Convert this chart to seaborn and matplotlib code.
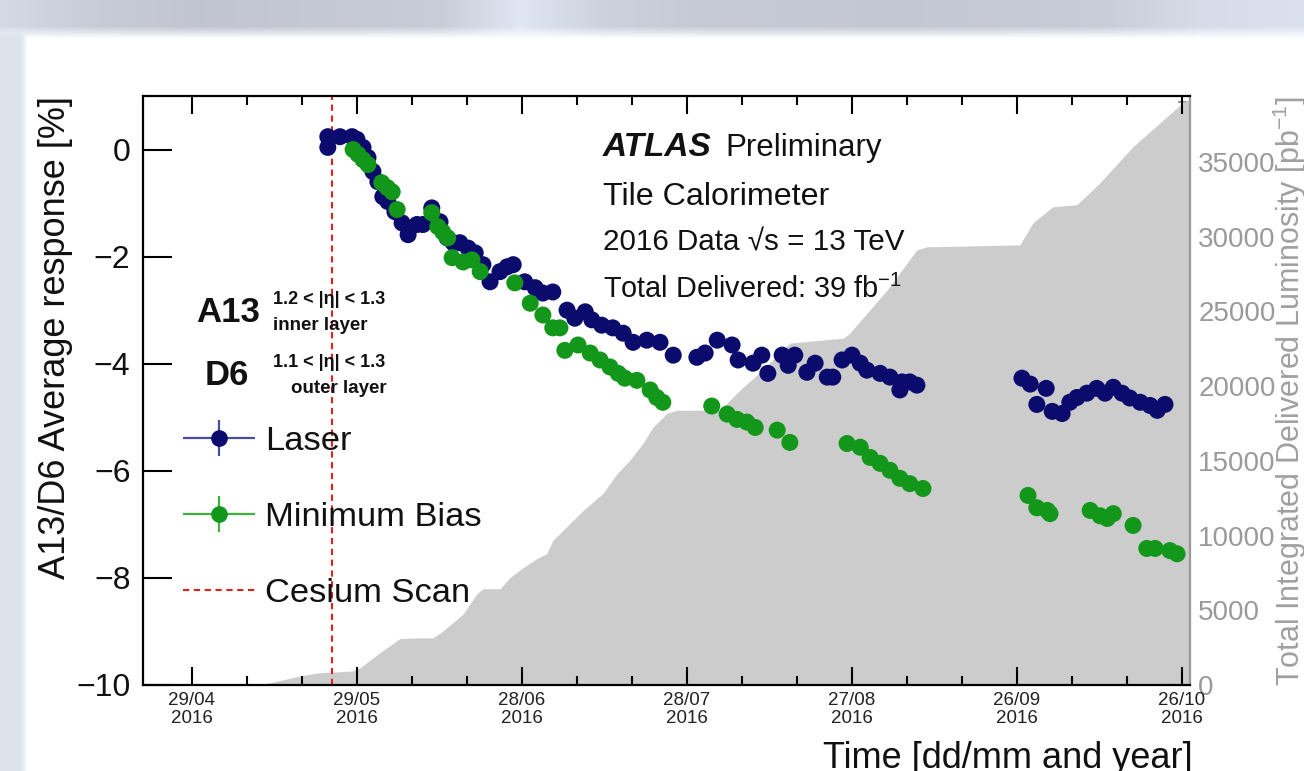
import numpy as np
import pandas as pd
import matplotlib
matplotlib.use("Agg")
import matplotlib.pyplot as plt
import matplotlib.dates as mdates
from matplotlib.lines import Line2D
from matplotlib.legend_handler import HandlerErrorbar
from matplotlib.ticker import FixedLocator, MultipleLocator, NullLocator, FuncFormatter
import seaborn as sns

# ---------------------------------------------------------------------------
# Data: day offsets are counted from 29 May 2016
# ---------------------------------------------------------------------------
REF_DATE = pd.Timestamp("2016-05-29")

laser_days = [-5.3, -5.3, -3.1, -0.9, 0.0, 1.1, 2.0, 2.9, 3.8, 4.7, 5.6, 6.9, 8.2, 9.3,
              10.9, 12.0, 13.6, 15.1, 16.4, 17.5, 18.7, 20.2, 21.5, 22.9, 24.2, 26.0,
              27.3, 28.4, 30.5, 32.4, 33.8, 35.6, 38.2, 39.6, 41.5, 42.7, 44.5, 46.5,
              48.4, 50.2, 52.7, 55.1, 57.5, 61.8, 63.3, 65.5, 68.2, 69.3, 72.0, 73.6,
              74.7, 77.3, 78.4, 79.6, 81.8, 83.3, 85.5, 86.5, 88.2, 90.0, 91.5, 92.7,
              95.1, 96.9, 98.7, 99.1, 100.5, 101.8,
              120.9, 122.4, 123.6, 125.3, 126.4, 128.2, 129.6, 130.9, 132.7, 134.5,
              136.0, 137.5, 139.1, 140.5, 142.4, 144.2, 145.5, 146.9]
laser_resp = [0.24, 0.04, 0.24, 0.24, 0.19, 0.04, -0.15, -0.41, -0.60, -0.88, -0.97, -1.16,
              -1.37, -1.59, -1.40, -1.40, -1.09, -1.35, -1.65, -1.74, -1.74, -1.84, -1.93,
              -2.15, -2.47, -2.28, -2.19, -2.15, -2.47, -2.58, -2.68, -2.66, -3.00, -3.15,
              -3.03, -3.18, -3.28, -3.33, -3.43, -3.60, -3.56, -3.60, -3.84, -3.88, -3.80,
              -3.56, -3.65, -3.93, -3.99, -3.84, -4.18, -3.84, -4.03, -3.84, -4.16, -3.99,
              -4.25, -4.25, -3.93, -3.84, -3.99, -4.12, -4.18, -4.25, -4.49, -4.34, -4.34,
              -4.40,
              -4.27, -4.38, -4.76, -4.46, -4.89, -4.93, -4.72, -4.63, -4.55, -4.46, -4.55,
              -4.44, -4.55, -4.64, -4.72, -4.78, -4.87, -4.76]

minbias_days = [-0.7, 0.2, 1.1, 2.0, 4.5, 5.5, 6.4, 7.3, 13.6, 14.7, 15.6, 16.5, 17.3,
                19.3, 20.9, 22.4, 28.7, 31.5, 33.8, 35.6, 36.9, 37.8, 40.2, 42.4, 44.2,
                46.0, 47.5, 48.7, 50.9, 53.3, 54.5, 55.6, 64.5, 67.3, 69.1, 70.9, 72.4,
                76.4, 78.7, 89.1, 91.5, 93.3, 95.1, 96.9, 98.7, 100.5, 102.9,
                122.0, 123.6, 125.5, 126.0, 133.3, 135.1, 136.4, 137.5, 141.1, 143.6,
                145.1, 147.8, 149.1]
minbias_resp = [0.00, -0.09, -0.19, -0.28, -0.62, -0.71, -0.79, -1.12, -1.18, -1.44, -1.54,
                -1.65, -2.02, -2.10, -2.06, -2.28, -2.49, -2.87, -3.09, -3.33, -3.33, -3.75,
                -3.65, -3.80, -3.93, -4.06, -4.18, -4.27, -4.31, -4.49, -4.63, -4.72, -4.79,
                -4.94, -5.04, -5.09, -5.19, -5.24, -5.47, -5.49, -5.56, -5.75, -5.86, -5.99,
                -6.14, -6.24, -6.33,
                -6.46, -6.69, -6.74, -6.80, -6.74, -6.84, -6.89, -6.80, -7.02, -7.45, -7.45,
                -7.49, -7.55]

# Cumulative delivered luminosity [pb^-1]
lumi_days = [-17.6, -10.4, -7.3, -0.7, 0.5, 4.7, 7.8, 10.9, 13.8, 15.6, 19.3, 21.8, 22.9,
             26.0, 27.8, 30.2, 32.7, 34.5, 35.6, 38.7, 41.1, 44.7, 47.3, 49.6, 52.0, 53.8,
             56.4, 58.2, 66.0, 69.6, 73.3, 78.7, 88.4, 89.6, 96.4, 101.8, 103.6, 120.5,
             122.9, 126.5, 130.9, 135.1, 141.1, 147.3, 150.2, 151.4]
lumi_pb = [0, 600, 800, 940, 1140, 2300, 3100, 3150, 3150, 3600, 4750, 6100, 6440, 6440,
           7180, 7850, 8450, 8790, 9660, 10800, 11670, 12810, 14150, 15030, 16170, 17240,
           18180, 18380, 18380, 19720, 20930, 22870, 23200, 23540, 26430, 29110, 29310,
           29440, 30920, 31990, 32130, 33600, 36020, 38030, 38970, 39170]

cesium_day = -4.5

tick_dates = ["2016-04-29", "2016-05-29", "2016-06-28", "2016-07-28",
              "2016-08-27", "2016-09-26", "2016-10-26"]
resp_ticks = [-10, -8, -6, -4, -2, 0]
lumi_ticks = [0, 5000, 10000, 15000, 20000, 25000, 30000, 35000]


def to_dates(days):
    return REF_DATE + pd.to_timedelta(np.asarray(days, dtype=float), unit="D")


resp_df = pd.concat([
    pd.DataFrame({"date": to_dates(laser_days), "response": laser_resp, "source": "Laser"}),
    pd.DataFrame({"date": to_dates(minbias_days), "response": minbias_resp, "source": "Minimum Bias"}),
], ignore_index=True)
lumi_df = pd.DataFrame({"date": to_dates(lumi_days), "lumi": lumi_pb})

# ---------------------------------------------------------------------------
# Style
# ---------------------------------------------------------------------------
sns.set_theme(style="white")
plt.rcParams["font.family"] = ["Liberation Sans", "DejaVu Sans"]
plt.rcParams["mathtext.fontset"] = "custom"
plt.rcParams["mathtext.rm"] = "Liberation Sans"
plt.rcParams["mathtext.it"] = "Liberation Sans:italic"
plt.rcParams["mathtext.bf"] = "Liberation Sans:bold"

NAVY = "#0b0b6e"
GREEN = "#12971a"
RED = "#e3211c"
LUMI_GREY = "#cccccc"
AXIS_GREY = "#999999"
INK = "#111111"

W, H = 1304, 771
fig = plt.figure(figsize=(W / 100, H / 100), dpi=100)

# slide backdrop: soft blue-grey strip along the top and left edge
bg = fig.add_axes([0, 0, 1, 1], zorder=-5)
yy, xx = np.mgrid[0:H, 0:W]
cx = [0, 90, 200, 440, 520, 600, 700, 900, 1100, 1200, 1304]
cr = [0.86, 0.81, 0.78, 0.81, 0.91, 0.83, 0.80, 0.79, 0.81, 0.87, 0.89]
shade = np.interp(np.arange(W), cx, cr)
strip = np.stack([shade * 0.97, shade * 0.99, shade * 1.05], axis=-1).clip(0, 1)
img = np.ones((H, W, 3))
w_top = np.clip((38 - yy) / 12.0, 0, 1)[..., None]
img = img * (1 - w_top) + strip[None, :, :] * w_top
side = np.array([0.86, 0.89, 0.92])
w_left = np.clip((27 - xx) / 7.0, 0, 1)[..., None] * (1 - w_top)
img = img * (1 - w_left) + side * w_left
bg.imshow(img, aspect="auto", interpolation="bilinear")
bg.set_axis_off()

# axes frame
left, right, top, bottom = 143, 1190, 96, 685
rect = [left / W, 1 - bottom / H, (right - left) / W, (bottom - top) / H]
ax = fig.add_axes(rect)
ax2 = ax.twinx()
ax.set_zorder(2)
ax2.set_zorder(1)
ax.patch.set_visible(False)
ax2.patch.set_visible(True)
ax2.patch.set_facecolor("white")

# integrated luminosity (right axis)
ax2.fill_between(lumi_df["date"], 0, lumi_df["lumi"], color=LUMI_GREY, lw=0)
ax2.set_ylim(0, 39400)

# response measurements (left axis)
sns.scatterplot(data=resp_df, x="date", y="response", hue="source",
                palette={"Laser": NAVY, "Minimum Bias": GREEN},
                s=150, linewidth=0, legend=False, ax=ax, zorder=3)
ax.axvline(REF_DATE + pd.Timedelta(days=cesium_day), color=RED, lw=1.5,
           ls=(0, (3, 2.2)), zorder=2)

ax.set_xlim(REF_DATE + pd.Timedelta(days=-38.9), REF_DATE + pd.Timedelta(days=151.45))
ax.set_ylim(-10, 1)

# x axis
ax.xaxis.set_major_locator(FixedLocator(mdates.date2num(pd.to_datetime(tick_dates))))
ax.xaxis.set_major_formatter(mdates.DateFormatter("%d/%m\n%Y"))
ax.xaxis.set_minor_locator(FixedLocator(
    mdates.date2num(pd.date_range("2016-04-19", "2016-11-05", freq="10D"))))
ax.tick_params(axis="x", which="major", direction="in", length=13, width=1.5,
               top=True, bottom=True, labelsize=13.5, pad=5, color="black",
               labelcolor="#222222")
ax.tick_params(axis="x", which="minor", direction="in", length=6.5, width=1.5,
               top=True, bottom=True, color="black")
for lbl in ax.get_xticklabels():
    lbl.set_linespacing(1.05)

# left y axis
ax.yaxis.set_major_locator(FixedLocator(resp_ticks))
ax.yaxis.set_minor_locator(NullLocator())
ax.tick_params(axis="y", which="major", direction="in", length=21, width=1.5,
               left=True, right=False, labelsize=23, pad=9, color="black",
               labelcolor=INK)

# right y axis
ax2.yaxis.set_major_locator(FixedLocator(lumi_ticks))
ax2.yaxis.set_minor_locator(MultipleLocator(1000))
ax2.yaxis.set_major_formatter(FuncFormatter(lambda v, p: f"{int(v)}"))
ax2.tick_params(axis="y", which="major", direction="in", length=18, width=1.5,
                color=AXIS_GREY, labelcolor="#9a9a9a", labelsize=20, pad=6)
ax2.tick_params(axis="y", which="minor", direction="in", length=9, width=1.5,
                color=AXIS_GREY)

for s in ["left", "top", "bottom"]:
    ax.spines[s].set_color("black")
    ax.spines[s].set_linewidth(1.6)
    ax2.spines[s].set_visible(False)
ax.spines["right"].set_visible(False)
ax2.spines["right"].set_color(AXIS_GREY)
ax2.spines["right"].set_linewidth(1.6)

# axis titles
ax.set_ylabel("A13/D6 Average response [%]", loc="top", fontsize=26, color=INK)
ax.yaxis.set_label_coords(-0.084, 1.0)
ax.yaxis.label.set_va("center")
ax.set_xlabel("Time [dd/mm and year]", loc="right", fontsize=26, color=INK)
ax.xaxis.set_label_coords(1.003, -0.124)
ax.xaxis.label.set_va("center")
ax2.set_ylabel("Total Integrated Delivered Luminosity [pb$^{-1}$]", loc="top",
               fontsize=22, color="#a0a0a0")
ax2.yaxis.set_label_coords(1.0955, 1.0)
ax2.yaxis.label.set_va("center")

# ATLAS block
tx = 0.439
ax.text(tx, 0.912, "ATLAS", fontsize=24, fontweight="bold", fontstyle="italic",
        va="center", ha="left", transform=ax.transAxes, color=INK)
ax.text(0.556, 0.912, "Preliminary", fontsize=22.5, va="center", ha="left",
        transform=ax.transAxes, color=INK)
ax.text(tx, 0.829, "Tile Calorimeter", fontsize=23.2, va="center", ha="left",
        transform=ax.transAxes, color=INK)
ax.text(tx, 0.752, "2016 Data \u221as = 13 TeV", fontsize=21.3, va="center", ha="left",
        transform=ax.transAxes, color=INK)
ax.text(tx, 0.671, "Total Delivered: 39 fb$^{-1}$", fontsize=20.8, va="center", ha="left",
        transform=ax.transAxes, color=INK)

# cell labels
ax.text(0.081, 0.633, "A13", fontsize=25, fontweight="bold", va="center", ha="center",
        transform=ax.transAxes, color=INK)
ax.text(0.124, 0.655, "1.2 < |\u03b7| < 1.3", fontsize=13, fontweight="bold", va="center",
        ha="left", transform=ax.transAxes, color=INK)
ax.text(0.124, 0.610, "inner layer", fontsize=13.5, fontweight="bold", va="center",
        ha="left", transform=ax.transAxes, color=INK)
ax.text(0.080, 0.526, "D6", fontsize=25, fontweight="bold", va="center", ha="center",
        transform=ax.transAxes, color=INK)
ax.text(0.124, 0.548, "1.1 < |\u03b7| < 1.3", fontsize=13, fontweight="bold", va="center",
        ha="left", transform=ax.transAxes, color=INK)
ax.text(0.187, 0.504, "outer layer", fontsize=13.5, fontweight="bold", va="center",
        ha="center", transform=ax.transAxes, color=INK)

# legend built from errorbar-style handles
proxy = fig.add_axes([0, 0, 0.001, 0.001])
proxy.set_visible(False)
h_laser = proxy.errorbar([np.nan], [np.nan], xerr=[1], yerr=[1], fmt="o", color=NAVY,
                         ms=11, ecolor="#4b4ba0", elinewidth=1.6, capsize=0)
h_mb = proxy.errorbar([np.nan], [np.nan], xerr=[1], yerr=[1], fmt="o", color=GREEN,
                      ms=11, ecolor="#3cb43c", elinewidth=1.6, capsize=0)
h_cs = Line2D([], [], color=RED, lw=1.5, ls=(0, (3, 2.2)))
err_handler = HandlerErrorbar(xerr_size=1.05, yerr_size=0.53)
leg = ax.legend([h_laser, h_mb, h_cs], ["Laser", "Minimum Bias", "Cesium Scan"],
                handler_map={type(h_laser): err_handler},
                loc="upper left", bbox_to_anchor=(0.038, 0.440), frameon=False,
                fontsize=24.8, handlelength=2.1, handletextpad=0.28, labelspacing=1.3,
                borderpad=0, borderaxespad=0)
for t in leg.get_texts():
    t.set_color(INK)

fig.savefig("out.png", dpi=100)
